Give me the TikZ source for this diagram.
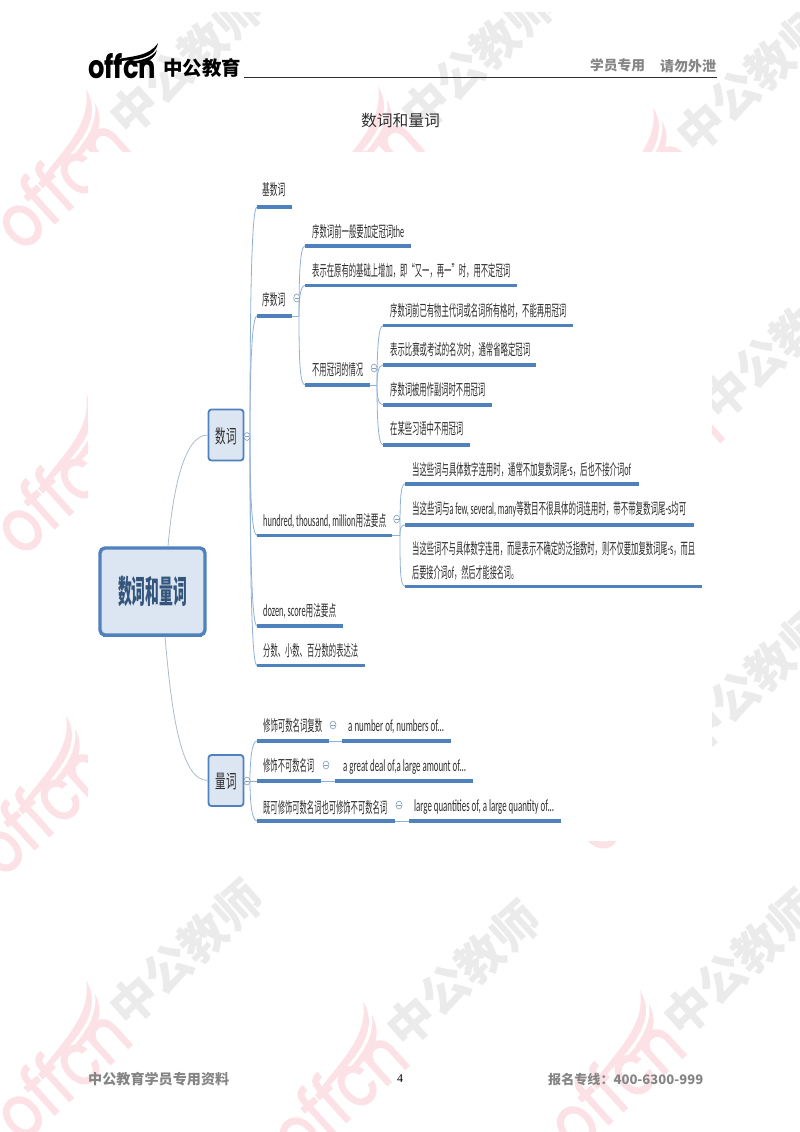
\documentclass[tikz,border=0pt]{standalone}
\usepackage{fontspec}
\usepackage{graphicx}
\usetikzlibrary{shapes.geometric}
\setmainfont{Noto Sans CJK SC}
\newfontfamily\latf{Carlito}
\newfontfamily\popf{Poppins}
\newfontfamily\serf{Liberation Serif}
\newcommand{\latn}[1]{{\latf\fontsize{17}{17}\selectfont #1}}
\newcommand{\wmweight}{\addfontfeature{FakeBold=2}}
\definecolor{uline}{HTML}{4F81BD}
\definecolor{boxfill}{HTML}{DCE6F2}
\definecolor{conn}{HTML}{8FB0D8}
\definecolor{rootconn}{HTML}{AEBBCB}
\definecolor{wmpink}{HTML}{FCE2E7}
\definecolor{wmgrey}{HTML}{EBEBEB}
\definecolor{inkc}{HTML}{2E2E2E}
\definecolor{footc}{HTML}{858585}
\tikzset{
  ulinest/.style={draw=uline,line width=3.2pt},
  connst/.style={draw=conn,line width=0.8pt},
  rootconnst/.style={draw=rootconn,line width=0.8pt},
  mtext/.style={inner sep=0pt,text=inkc,anchor=base west},
  coll/.style={draw=conn!90!black,ellipse,line width=0.6pt,minimum width=6pt,minimum height=8pt,inner sep=0pt,fill=white},
  collm/.style={draw=conn!90!black,line width=0.5pt},
  subbox/.style={draw=uline,fill=boxfill,line width=1.8pt,rounded corners=3pt,minimum width=35pt,minimum height=51pt,inner sep=0pt,text=inkc},
  rootbox/.style={draw=uline,fill=boxfill,line width=3.4pt,rounded corners=5pt,minimum width=105pt,minimum height=87pt,inner sep=0pt},
  headtext/.style={inner sep=0pt,text=footc,font=\bfseries\fontsize{14}{14}\selectfont},
}
% name, line x0, line x1, line y, text x0, text width, text baseline, content
\newcommand{\topic}[8]{%
  \coordinate (#1-l) at (#2,#4);
  \coordinate (#1-r) at (#3,#4);
  \draw[ulinest] (#1-l) -- (#1-r);
  \node[mtext] (#1) at (#5,#7) {\resizebox{#6pt}{\height}{\fontsize{15.5}{15.5}\selectfont #8}};
}
\newcommand{\collapse}[3]{%
  \node[coll] (#1) at (#2,#3) {};
  \draw[collm] ([xshift=1.5pt]#1.west) -- ([xshift=-1.5pt]#1.east);
}
% start, end, out angle, out distance
\newcommand{\branch}[4]{\draw[connst] (#1) to[out=#3,in=180,out distance=#4pt,in distance=5pt] (#2-l);}
% logo: centre x, y, rotation, scale, colour, weight switch
\newcommand{\offcnlogo}[6]{%
  \begin{scope}[shift={(#1,#2)},rotate=#3,scale=#4,transform shape]
    \node[inner sep=0pt,anchor=base,text=#5] (logo#1x#2) at (0,9) {\resizebox{68pt}{25pt}{\popf#6{}offcn}};
    \fill[#5] (-8,-9) .. controls (8,-13) and (27,-12) .. (36,-26) .. controls (33,-10) and (14,-9.5) .. (-1,-8) -- cycle;
    \fill[#5] (6,-7.5) .. controls (17,-8) and (29,-10) .. (35,-19) .. controls (32,-7) and (21,-6) .. (12,-5.5) -- cycle;
  \end{scope}
}
\newcommand{\wmgreyt}[2]{%
  \node[rotate=42,inner sep=0pt,text=wmgrey,font=\bfseries\fontsize{47}{47}\selectfont] (wg#1x#2) at (#1,#2) {中公教师};
}
\begin{document}
\begin{tikzpicture}[x=1pt,y=-1pt]
\useasboundingbox (0,0) rectangle (800,1132);
\begin{scope}
\clip (0,0) rectangle (800,1132);
% watermarks: pink logo centre, grey text centre
\offcnlogo{65}{187}{42}{2.25}{wmpink}{\wmweight}\wmgreyt{186}{62}
\offcnlogo{357}{184}{42}{2.25}{wmpink}{\wmweight}\wmgreyt{478}{59}
\offcnlogo{632}{205}{42}{2.25}{wmpink}{\wmweight}\wmgreyt{753}{80}
\offcnlogo{65}{492}{42}{2.25}{wmpink}{\wmweight}
\offcnlogo{657}{472}{42}{2.25}{wmpink}{\wmweight}\wmgreyt{778}{347}
\offcnlogo{45}{813}{42}{2.25}{wmpink}{\wmweight}
\offcnlogo{642}{790}{42}{2.25}{wmpink}{\wmweight}\wmgreyt{753}{681}
\offcnlogo{65}{1078}{42}{2.25}{wmpink}{\wmweight}\wmgreyt{186}{953}
\offcnlogo{342}{1099}{42}{2.25}{wmpink}{\wmweight}\wmgreyt{463}{974}
\offcnlogo{619}{1088}{42}{2.25}{wmpink}{\wmweight}\wmgreyt{740}{963}
\fill[white] (0,0) rectangle (800,12);
\fill[white] (88,152) rectangle (712,841);
\end{scope}
% header
\offcnlogo{122}{69}{0}{1}{black}{\bfseries}
\node[inner sep=0pt,anchor=base west,font=\bfseries] (brand) at (163,76) {\resizebox{78pt}{!}{中公教育}};
\coordinate (hl) at (244,77.5);
\coordinate (hr) at (717,77.5);
\draw[inkc,line width=1.5pt] (hl) -- (hr);
\node[headtext,anchor=base west] (ha) at (590,71) {\resizebox{55pt}{!}{学员专用}};
\node[headtext,anchor=base west] (hb) at (660,71) {\resizebox{56pt}{!}{请勿外泄}};
\node[inner sep=0pt,text=inkc,anchor=base] (title) at (400.5,126) {\resizebox{79pt}{!}{数词和量词}};
% footer
\node[headtext,anchor=base west] (fa) at (88,1084) {\resizebox{141pt}{!}{中公教育学员专用资料}};
\node[inner sep=0pt,anchor=base,font=\serf\fontsize{12}{12}\selectfont] (fb) at (400,1082) {4};
\node[headtext,anchor=base west] (fc) at (548,1084) {\resizebox{155pt}{!}{报名专线：400-6300-999}};
% main boxes
\node[rootbox] (root) at (152.5,591.5) {};
\draw[uline,line width=2.5pt] ([xshift=5pt,yshift=0.5pt]root.south west) -- ([xshift=-5pt,yshift=0.5pt]root.south east);
\node[inner sep=0pt,text=uline!65!black,anchor=base] (roott) at (152.5,603) {\resizebox{69pt}{\height}{\bfseries\fontsize{32}{32}\selectfont 数词和量词}};
\node[subbox] (shu) at (226,435) {};
\node[inner sep=0pt,text=inkc,anchor=base] (shut) at (226,443) {\resizebox{21pt}{\height}{\fontsize{19}{19}\selectfont 数词}};
\node[subbox] (liang) at (226,780.5) {};
\node[inner sep=0pt,text=inkc,anchor=base] (liangt) at (226,788) {\resizebox{21pt}{\height}{\fontsize{19}{19}\selectfont 量词}};
\draw[rootconnst] ([xshift=15.5pt]root.north) to[out=85,in=180,out distance=55pt,in distance=24pt] (shu.west);
\draw[rootconnst] ([xshift=12.5pt]root.south) to[out=275,in=180,out distance=70pt,in distance=28pt] (liang.west);
% topics level 2
\topic{jishu}{257}{292}{207}{262}{23}{195}{基数词}
\topic{xushu}{257}{292}{316}{262}{23}{305}{序数词}
\topic{hund}{257}{392}{535.5}{263}{123}{526}{\latn{hundred, thousand, million}用法要点}
\topic{dozen}{257}{343}{626}{263}{73}{616}{\latn{dozen, score}用法要点}
\topic{fen}{257}{365}{665.5}{263}{95}{656}{分数、小数、百分数的表达法}
% level 3
\topic{a1}{305}{411}{246}{312}{92}{237}{序数词前一般要加定冠词\latn{the}}
\topic{a2}{305}{517}{285.6}{312}{198}{276}{表示在原有的基础上增加，即“又一，再一”时，用不定冠词}
\topic{a3}{305}{370}{385}{312}{51}{375}{不用冠词的情况}
\topic{b1}{383}{573}{325.6}{390}{176}{316}{序数词前已有物主代词或名词所有格时，不能再用冠词}
\topic{b2}{383}{536}{365}{390}{140}{355}{表示比赛或考试的名次时，通常省略定冠词}
\topic{b3}{383}{492}{405}{390}{95}{395}{序数词被用作副词时不用冠词}
\topic{b4}{383}{470}{445}{390}{73}{434}{在某些习语中不用冠词}
\topic{c1}{405}{639}{484}{412}{219}{475}{当这些词与具体数字连用时，通常不加复数词尾\latn{-s}，后也不接介词\latn{of}}
\topic{c2}{405}{694}{525}{412}{274}{514}{当这些词与\latn{a few, several, many}等数目不很具体的词连用时，带不带复数词尾\latn{-s}均可}
\topic{c3}{405}{702}{586.5}{412}{283}{554}{当这些词不与具体数字连用，而是表示不确定的泛指数时，则不仅要加复数词尾\latn{-s}，而且}
\node[mtext] (c3b) at (412,578) {\resizebox{106pt}{\height}{\fontsize{15.5}{15.5}\selectfont 后要接介词\latn{of}，然后才能接名词。}};
% liang
\topic{d1}{257}{329}{741}{263}{59}{731}{修饰可数名词复数}
\topic{d2}{257}{321}{781}{263}{51}{771}{修饰不可数名词}
\topic{d3}{257}{395}{821}{263}{124}{813}{既可修饰可数名词也可修饰不可数名词}
\topic{e1}{342}{451}{741}{348}{96}{731}{\latn{a number of, numbers of...}}
\topic{e2}{335}{473}{781}{343}{123}{771}{\latn{a great deal of,a large amount of...}}
\topic{e3}{409}{561}{821}{414}{140}{811}{\latn{large quantities of, a large quantity of...}}
% connectors
\coordinate (s0) at (250,436);
\branch{s0}{jishu}{90}{150}
\branch{s0}{xushu}{90}{70}
\branch{s0}{hund}{270}{60}
\branch{s0}{dozen}{270}{120}
\branch{s0}{fen}{270}{150}
\draw[connst] (xushu-r) -- ++(7,0) coordinate (s1);
\branch{s1}{a1}{90}{40}
\branch{s1}{a2}{90}{16}
\branch{s1}{a3}{270}{45}
\draw[connst] (a3-r) -- ++(7,0) coordinate (s2);
\branch{s2}{b1}{90}{30}
\branch{s2}{b2}{90}{10}
\branch{s2}{b3}{270}{10}
\branch{s2}{b4}{270}{30}
\draw[connst] (hund-r) -- ++(8,0) coordinate (s3);
\branch{s3}{c1}{90}{30}
\branch{s3}{c2}{90}{5}
\branch{s3}{c3}{270}{30}
\coordinate (s4) at (250,781);
\branch{s4}{d1}{90}{22}
\draw[connst] (s4) -- (d2-l);
\branch{s4}{d3}{270}{22}
\draw[connst] (d1-r) -- (e1-l);
\draw[connst] (d2-r) -- (e2-l);
\draw[connst] (d3-r) -- (e3-l);
% collapse marks
\draw[connst] (shu.east) -- (s0);
\draw[connst] (liang.east) -- (s4);
\collapse{m1}{247}{436.5}
\collapse{m2}{296.7}{298}
\collapse{m3}{374}{368}
\collapse{m4}{396.7}{519}
\collapse{m5}{247}{781}
\collapse{m6}{333}{725}
\collapse{m7}{326}{765}
\collapse{m8}{399}{805}
\end{tikzpicture}
\end{document}
